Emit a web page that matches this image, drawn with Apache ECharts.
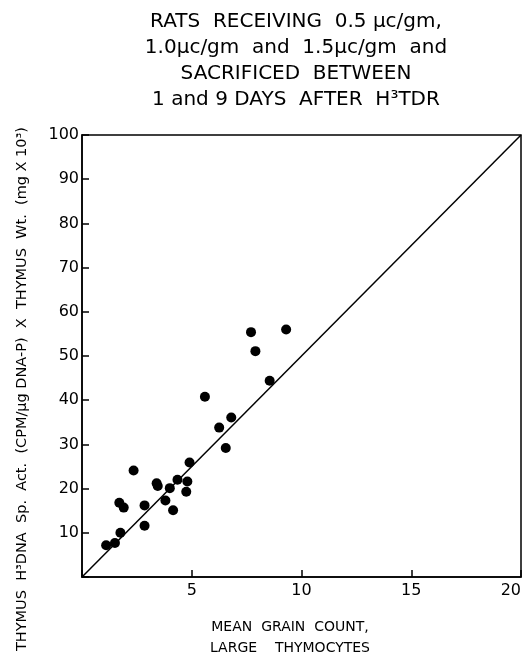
<!DOCTYPE html>
<html>
<head>
<meta charset="utf-8">
<script src="https://cdn.jsdelivr.net/npm/echarts@6/dist/echarts.min.js"></script>
<style>
  html, body { margin: 0; padding: 0; background: #fff; }
  #chart { width: 525px; height: 659px; }
</style>
</head>
<body>
<div id="chart"></div>
<script>
// mean grain count, large thymocytes
const grainCount = [1.1, 1.5, 1.75, 1.7, 1.9, 2.35, 2.85, 2.85, 3.4, 3.45, 3.8, 4.0, 4.15, 4.35, 4.8, 4.75, 4.9, 5.6, 6.25, 6.55, 6.8, 7.7, 7.9, 8.55, 9.3];
// thymus H3DNA sp. act. x thymus wt (mg x 10^3)
const activity = [7.2, 7.7, 10.0, 16.8, 15.7, 24.1, 16.2, 11.6, 21.2, 20.6, 17.3, 20.1, 15.1, 22.0, 21.6, 19.3, 25.9, 40.8, 33.8, 29.2, 36.1, 55.4, 51.1, 44.4, 56.0];
// reference line y = 5x
const refLine = [[0, 0], [20, 100]];

const xTicks = [5, 10, 15, 20];
const yTicks = [10, 20, 30, 40, 50, 60, 70, 80, 90, 100];

const titleLines = [
  "RATS  RECEIVING  0.5 μc/gm,",
  "1.0μc/gm  and  1.5μc/gm  and",
  "SACRIFICED  BETWEEN",
  "1 and 9 DAYS  AFTER  H³TDR"
];
const xName = ["MEAN  GRAIN  COUNT,", "LARGE    THYMOCYTES"];
const yName = "THYMUS  H³DNA  Sp.  Act.  (CPM/μg DNA-P)  X  THYMUS  Wt.  (mg X 10³)";

const points = grainCount.map((x, i) => [x, activity[i]]);
const font = "DejaVu Sans";

const chart = echarts.init(document.getElementById("chart"));

chart.setOption({
  backgroundColor: "#fff",
  animation: false,
  grid: {
    left: 82, right: 4, top: 135, bottom: 82,
    outerBoundsMode: "none", containLabel: false,
    show: true, borderColor: "#000", borderWidth: 1.5
  },
  xAxis: {
    type: "value", min: 0, max: 20, interval: 5,
    axisLine: { lineStyle: { color: "#000", width: 1.5 } },
    axisTick: { inside: true, length: 7, lineStyle: { color: "#000", width: 1.5 } },
    axisLabel: {
      color: "#000", fontFamily: font, fontSize: 16, margin: 6,
      alignMaxLabel: "right",
      formatter: v => xTicks.includes(v) ? String(v) : ""
    },
    splitLine: { show: false }
  },
  yAxis: {
    type: "value", min: 0, max: 100, interval: 10,
    axisLine: { lineStyle: { color: "#000", width: 1.5 } },
    axisTick: { inside: true, length: 7, lineStyle: { color: "#000", width: 1.5 } },
    axisLabel: {
      color: "#000", fontFamily: font, fontSize: 16, margin: 3,
      formatter: v => yTicks.includes(v) ? String(v) : ""
    },
    splitLine: { show: false }
  },
  graphic: [
    {
      type: "text", x: 296, y: 9,
      style: {
        text: titleLines.join("\n"), fill: "#000", font: "20px " + font,
        textAlign: "center", lineHeight: 26
      }
    },
    {
      type: "text", x: 290, y: 617,
      style: {
        text: xName.join("\n"), fill: "#000", font: "14px " + font,
        textAlign: "center", lineHeight: 21
      }
    },
    {
      type: "text", x: 22, y: 389, rotation: Math.PI / 2,
      style: {
        text: yName, fill: "#000", font: "14.5px " + font,
        textAlign: "center", textVerticalAlign: "middle"
      }
    }
  ],
  series: [
    {
      type: "line", data: refLine, symbol: "none",
      lineStyle: { color: "#000", width: 1.5 }
    },
    {
      type: "scatter", data: points, symbol: "circle", symbolSize: 10,
      itemStyle: { color: "#000", opacity: 1 }
    }
  ]
});
</script>
</body>
</html>
